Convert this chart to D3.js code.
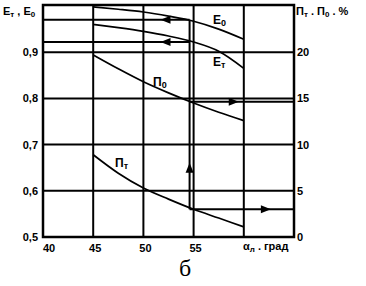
<!DOCTYPE html>
<html>
<head>
<meta charset="utf-8">
<script src="https://cdn.jsdelivr.net/npm/d3@7"></script>
<style>
  body { margin: 0; background: #fff; }
  svg text { font-family: "Liberation Sans", Arial, sans-serif; fill: #000; font-weight: bold; }
</style>
</head>
<body>
<div id="chart"></div>
<script>
// Blade angle values (x) and curves
const angles = [45, 47.5, 50, 52.5, 55, 57.5, 60];
const e0 = [0.998, 0.993, 0.987, 0.978, 0.967, 0.950, 0.928];
const eT = [0.960, 0.953, 0.945, 0.935, 0.922, 0.902, 0.865];
const p0 = [19.7, 18.2, 16.8, 15.6, 14.5, 13.5, 12.6];
const pT = [8.9, 6.9, 5.3, 4.1, 3.0, 2.05, 1.1];

// Reading construction at the chosen angle
const readAngle = 54.6;
const readLeft = [0.97, 0.922];   // E0, ET read on left axis
const readRight = [14.65, 3.0];   // P0, PT read on right axis

const xTicks = [40, 45, 50, 55];
const xGrid = [45, 50, 55, 60];
const leftTicks = [0.5, 0.6, 0.7, 0.8, 0.9];
const rightTicks = [0, 5, 10, 15, 20];

const width = 366, height = 286;
const svg = d3.select('#chart').append('svg')
    .attr('width', width)
    .attr('height', height);

const x = d3.scaleLinear().domain([40, 65]).range([43, 294]);
const yL = d3.scaleLinear().domain([0.5, 1.0]).range([237, 6]);
const yR = d3.scaleLinear().domain([0, 25]).range([237, 6]);

// gridlines
svg.selectAll('.hgrid')
    .data(leftTicks.slice(1))
    .enter().append('line')
    .attr('x1', x(40)).attr('x2', x(65))
    .attr('y1', d => yL(d)).attr('y2', d => yL(d))
    .attr('stroke', '#000').attr('stroke-width', 2);

svg.selectAll('.vgrid')
    .data(xGrid)
    .enter().append('line')
    .attr('x1', d => x(d)).attr('x2', d => x(d))
    .attr('y1', yL(1.0) - 1).attr('y2', yL(0.5))
    .attr('stroke', '#000').attr('stroke-width', 2);

// frame
svg.append('rect')
    .attr('x', x(40)).attr('y', yL(1.0) - 1)
    .attr('width', x(65) - x(40)).attr('height', yL(0.5) - yL(1.0) + 1)
    .attr('fill', 'none').attr('stroke', '#000').attr('stroke-width', 2.5);

// curves
const line = d3.line().curve(d3.curveMonotoneX);
function curve(vals, scale) {
    svg.append('path')
        .attr('d', line(angles.map((a, i) => [x(a), scale(vals[i])])))
        .attr('fill', 'none').attr('stroke', '#000').attr('stroke-width', 1.7);
}
curve(e0, yL);
curve(eT, yL);
curve(p0, yR);
curve(pT, yR);

// reading lines
readLeft.forEach(v => {
    svg.append('line')
        .attr('x1', x(40)).attr('x2', x(readAngle))
        .attr('y1', yL(v)).attr('y2', yL(v))
        .attr('stroke', '#000').attr('stroke-width', 2);
});
readRight.forEach(v => {
    svg.append('line')
        .attr('x1', x(readAngle)).attr('x2', x(65))
        .attr('y1', yR(v)).attr('y2', yR(v))
        .attr('stroke', '#000').attr('stroke-width', 2);
});
svg.append('line')
    .attr('x1', x(readAngle)).attr('x2', x(readAngle))
    .attr('y1', yL(readLeft[0])).attr('y2', yR(readRight[1]))
    .attr('stroke', '#000').attr('stroke-width', 2);

// arrowheads
function arrow(px, py, dir) {
    const L = 10, W = 4;
    let pts;
    if (dir === 'left') pts = [[px - L / 2, py], [px + L / 2, py - W], [px + L / 2, py + W]];
    if (dir === 'right') pts = [[px + L / 2, py], [px - L / 2, py - W], [px - L / 2, py + W]];
    if (dir === 'up') pts = [[px, py - L / 2], [px - W, py + L / 2], [px + W, py + L / 2]];
    svg.append('path').attr('d', 'M' + pts.join('L') + 'Z').attr('fill', '#000');
}
arrow(x(52.2), yL(readLeft[0]), 'left');
arrow(x(52.2), yL(readLeft[1]), 'left');
arrow(x(59.0), yR(readRight[0]), 'right');
arrow(x(62.2), yR(readRight[1]), 'right');
arrow(x(readAngle), yL(0.65), 'up');

// tick labels
svg.selectAll('.lt')
    .data(leftTicks)
    .enter().append('text')
    .attr('x', 38).attr('y', d => yL(d) + 4)
    .attr('text-anchor', 'end')
    .style('font-size', '11px')
    .text(d => d3.format('.1f')(d).replace('.', ','));

svg.selectAll('.rt')
    .data(rightTicks)
    .enter().append('text')
    .attr('x', 297).attr('y', d => yR(d) + 4)
    .style('font-size', '11px')
    .text(d => d);

svg.selectAll('.bt')
    .data(xTicks)
    .enter().append('text')
    .attr('x', d => d === 40 ? x(d) + 6 : x(d) + 2)
    .attr('y', 252)
    .attr('text-anchor', 'middle')
    .style('font-size', '11px')
    .text(d => d);

// axis titles
function subLabel(px, py, parts, size) {
    const t = svg.append('text').attr('x', px).attr('y', py).style('font-size', size + 'px');
    parts.forEach(p => {
        t.append('tspan')
            .attr('dy', p.sub ? 2 : (p.up ? -2 : 0))
            .style('font-size', p.sub ? (size - 3) + 'px' : size + 'px')
            .text(p.t);
    });
    return t;
}
subLabel(3, 15, [{t: 'E'}, {t: 'т', sub: true}, {t: ' , E', up: true}, {t: '0', sub: true}], 11);
subLabel(296, 15, [{t: 'П'}, {t: 'т', sub: true}, {t: ' . П', up: true}, {t: '0', sub: true}, {t: ' . %', up: true}], 11);
subLabel(243, 250, [{t: 'α'}, {t: 'л', sub: true}, {t: ' . град', up: true}], 11);

// curve labels
subLabel(213, 24, [{t: 'E'}, {t: '0', sub: true}], 12);
subLabel(213, 66, [{t: 'E'}, {t: 'т', sub: true}], 12);
subLabel(153, 86, [{t: 'П'}, {t: '0', sub: true}], 12);
subLabel(115, 167, [{t: 'П'}, {t: 'т', sub: true}], 12);

// caption
svg.append('text')
    .attr('x', 185).attr('y', 276)
    .attr('text-anchor', 'middle')
    .style('font-family', '"Liberation Serif", "DejaVu Serif", serif')
    .style('font-weight', 'normal')
    .style('font-size', '24px')
    .text('б');
</script>
</body>
</html>
